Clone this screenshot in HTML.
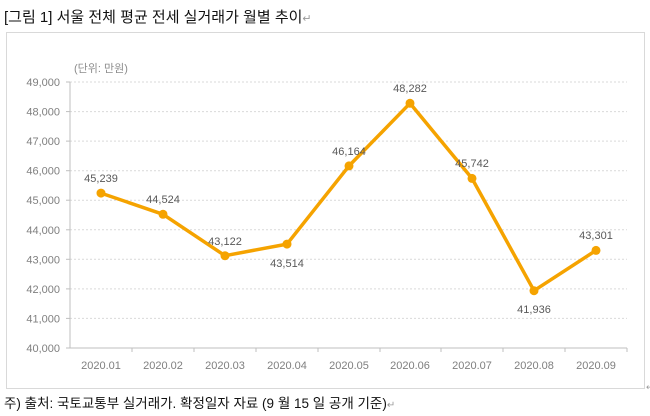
<!DOCTYPE html>
<html><head><meta charset="utf-8"><style>
body{margin:0;background:#fff;width:650px;height:411px;overflow:hidden;font-family:"Liberation Sans","Noto Sans CJK KR",sans-serif;}
</style></head><body>
<svg width="650" height="411" xmlns="http://www.w3.org/2000/svg" font-family="Liberation Sans, Noto Sans CJK KR, sans-serif">
<text x="4" y="22" font-size="15" fill="#111">[그림 1] 서울 전체 평균 전세 실거래가 월별 추이<tspan fill="#999" font-size="11">↵</tspan></text>
<rect x="6.5" y="32.5" width="638" height="356" fill="#fff" stroke="#d9d9d9"/>
<text x="74" y="72" font-size="11" fill="#8c8c8c">(단위: 만원)</text>
<g stroke="#d9d9d9" stroke-dasharray="2,2">
<line x1="70" x2="627" y1="82" y2="82"/><line x1="70" x2="627" y1="111.6" y2="111.6"/><line x1="70" x2="627" y1="141.1" y2="141.1"/><line x1="70" x2="627" y1="170.7" y2="170.7"/><line x1="70" x2="627" y1="200.2" y2="200.2"/><line x1="70" x2="627" y1="229.8" y2="229.8"/><line x1="70" x2="627" y1="259.3" y2="259.3"/><line x1="70" x2="627" y1="288.9" y2="288.9"/><line x1="70" x2="627" y1="318.4" y2="318.4"/>
</g>
<g stroke="#bfbfbf"><line x1="70" x2="70" y1="82" y2="348"/><line x1="70" x2="627" y1="348" y2="348"/>
<line x1="66" x2="70" y1="82" y2="82"/><line x1="66" x2="70" y1="111.6" y2="111.6"/><line x1="66" x2="70" y1="141.1" y2="141.1"/><line x1="66" x2="70" y1="170.7" y2="170.7"/><line x1="66" x2="70" y1="200.2" y2="200.2"/><line x1="66" x2="70" y1="229.8" y2="229.8"/><line x1="66" x2="70" y1="259.3" y2="259.3"/><line x1="66" x2="70" y1="288.9" y2="288.9"/><line x1="66" x2="70" y1="318.4" y2="318.4"/><line x1="66" x2="70" y1="348" y2="348"/>
<line x1="132" x2="132" y1="348" y2="352"/><line x1="194" x2="194" y1="348" y2="352"/><line x1="256" x2="256" y1="348" y2="352"/><line x1="318" x2="318" y1="348" y2="352"/><line x1="380" x2="380" y1="348" y2="352"/><line x1="441" x2="441" y1="348" y2="352"/><line x1="503" x2="503" y1="348" y2="352"/><line x1="565" x2="565" y1="348" y2="352"/><line x1="627" x2="627" y1="348" y2="352"/>
</g>
<g font-size="11" fill="#7f7f7f" text-anchor="end">
<text x="60" y="86">49,000</text><text x="60" y="115.6">48,000</text><text x="60" y="145.1">47,000</text><text x="60" y="174.7">46,000</text><text x="60" y="204.2">45,000</text><text x="60" y="233.8">44,000</text><text x="60" y="263.3">43,000</text><text x="60" y="292.9">42,000</text><text x="60" y="322.4">41,000</text><text x="60" y="352">40,000</text>
</g>
<g font-size="11" fill="#7f7f7f" text-anchor="middle">
<text x="101" y="369">2020.01</text><text x="163" y="369">2020.02</text><text x="225" y="369">2020.03</text><text x="287" y="369">2020.04</text><text x="349" y="369">2020.05</text><text x="410" y="369">2020.06</text><text x="472" y="369">2020.07</text><text x="534" y="369">2020.08</text><text x="596" y="369">2020.09</text>
</g>
<polyline fill="none" stroke="#f5a300" stroke-width="3.5" stroke-linejoin="round" points="101,193.1 163,214.3 225,255.7 287,244.1 349,165.9 410,103.3 472,178.4 534,290.7 596,250.4"/>
<g fill="#f5a300">
<circle cx="101" cy="193.1" r="4.5"/><circle cx="163" cy="214.3" r="4.5"/><circle cx="225" cy="255.7" r="4.5"/><circle cx="287" cy="244.1" r="4.5"/><circle cx="349" cy="165.9" r="4.5"/><circle cx="410" cy="103.3" r="4.5"/><circle cx="472" cy="178.4" r="4.5"/><circle cx="534" cy="290.7" r="4.5"/><circle cx="596" cy="250.4" r="4.5"/>
</g>
<g font-size="11" fill="#595959" text-anchor="middle">
<text x="101" y="182">45,239</text><text x="163" y="203">44,524</text><text x="225" y="245">43,122</text><text x="287" y="267">43,514</text><text x="349" y="155">46,164</text><text x="410" y="92">48,282</text><text x="472" y="167">45,742</text><text x="534" y="313">41,936</text><text x="596" y="239">43,301</text>
</g>
<text x="646" y="390" font-size="9" fill="#999">↵</text>
<text x="4" y="408" font-size="13.5" fill="#111">주) 출처: 국토교통부 실거래가. 확정일자 자료 (9 월 15 일 공개 기준)<tspan fill="#999" font-size="10">↵</tspan></text>
</svg>
</body></html>
